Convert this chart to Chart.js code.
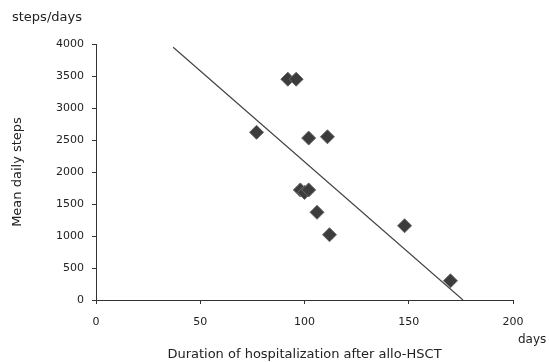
<!DOCTYPE html>
<html>
<head>
<meta charset="utf-8">
<script src="https://cdn.jsdelivr.net/npm/chart.js@4.4.0/dist/chart.umd.min.js"></script>
<style>
  html, body { margin: 0; padding: 0; background: #fff; }
  #mycanvas { display: block; }
</style>
</head>
<body>
<canvas id="mycanvas" width="549" height="362"></canvas>
<script>
// days of hospitalization vs mean daily steps
var days  = [77, 92, 96, 102, 111, 98, 100, 102, 106, 112, 148, 170];
var steps = [2620, 3450, 3450, 2530, 2550, 1720, 1680, 1720, 1370, 1020, 1160, 300];
// regression line end points
var trendDays  = [37, 176];
var trendSteps = [3950, 0];
var xTicks = [0, 50, 100, 150, 200];
var yTicks = [0, 500, 1000, 1500, 2000, 2500, 3000, 3500, 4000];

var points = [];
for (var i in days) {
    points.push({x: days[i], y: steps[i]});
}
var trend = [];
for (var j in trendDays) {
    trend.push({x: trendDays[j], y: trendSteps[j]});
}

var fontFam = "'DejaVu Sans', 'Liberation Sans', sans-serif";

var extraText = {
    id: 'extraText',
    afterDraw: function(chart) {
        var c = chart.ctx;
        c.save();
        c.fillStyle = '#222';
        c.font = '13px ' + fontFam;
        c.textAlign = 'left';
        c.textBaseline = 'middle';
        c.fillText('steps/days', 12, 18);
        c.font = '12px ' + fontFam;
        c.fillText('days', 518, 340);
        c.restore();
    }
};

var plainLabel = function(value) { return String(value); };

var ctx = document.getElementById('mycanvas');
var chart = new Chart(ctx, {
    type: 'scatter',
    data: {
        datasets: [
            {
                label: 'trend',
                data: trend,
                showLine: true,
                borderColor: '#444',
                borderWidth: 1.2,
                pointRadius: 0,
                order: 2
            },
            {
                label: 'patients',
                data: points,
                pointStyle: 'rectRot',
                pointRadius: 7,
                backgroundColor: '#3c3c3c',
                borderColor: '#666',
                borderWidth: 1,
                order: 1
            }
        ]
    },
    options: {
        responsive: false,
        animation: false,
        layout: { padding: { top: 44, right: 36, left: 0, bottom: 0 } },
        plugins: {
            legend: { display: false },
            tooltip: { enabled: false }
        },
        scales: {
            x: {
                type: 'linear',
                min: 0,
                max: 200,
                afterBuildTicks: function(axis) {
                    axis.ticks = xTicks.map(function(v) { return {value: v}; });
                },
                afterFit: function(axis) { axis.height = 62; },
                grid: { drawOnChartArea: false, drawTicks: true, tickLength: 4, color: '#333' },
                border: { display: true, color: '#333', width: 1 },
                ticks: { color: '#222', font: { family: fontFam, size: 11 }, padding: 12, maxRotation: 0, callback: plainLabel },
                title: {
                    display: true,
                    text: 'Duration of hospitalization after allo-HSCT',
                    color: '#222',
                    font: { family: fontFam, size: 13 },
                    padding: { top: 8, bottom: 0 }
                }
            },
            y: {
                type: 'linear',
                min: 0,
                max: 4000,
                afterBuildTicks: function(axis) {
                    axis.ticks = yTicks.map(function(v) { return {value: v}; });
                },
                afterFit: function(axis) { axis.width = 96; },
                grid: { drawOnChartArea: false, drawTicks: true, tickLength: 4, color: '#333' },
                border: { display: true, color: '#333', width: 1 },
                ticks: { color: '#222', font: { family: fontFam, size: 11 }, padding: 8, callback: plainLabel },
                title: {
                    display: true,
                    text: 'Mean daily steps',
                    color: '#222',
                    font: { family: fontFam, size: 13 },
                    padding: { top: 10, bottom: 0 }
                }
            }
        }
    },
    plugins: [extraText]
});
</script>
</body>
</html>
